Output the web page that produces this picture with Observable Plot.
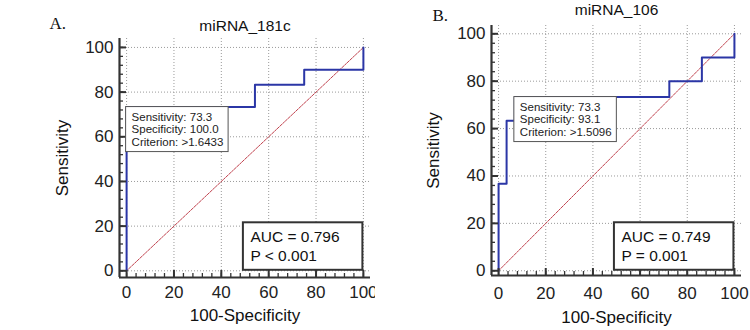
<!DOCTYPE html>
<html>
<head>
<meta charset="utf-8">
<script src="https://cdn.jsdelivr.net/npm/d3@7"></script>
<script src="https://cdn.jsdelivr.net/npm/@observablehq/plot@0.6"></script>
<style>
  html, body { margin: 0; padding: 0; background: #fff; }
  #wrap { position: relative; width: 750px; height: 330px; overflow: hidden; }
  #wrap > div { position: absolute; top: 0; }
</style>
</head>
<body>
<div id="wrap"><div id="pa" style="left:0"></div><div id="pb" style="left:375px"></div></div>
<script>
// Panel labels and titles
const panelLabels = ["A.", "B."];
const titles = ["miRNA_181c", "miRNA_106"];

// ROC step vertices (100-Specificity, Sensitivity)
const rocA_fpr  = [0, 0, 54.2, 75, 100];
const rocA_sens = [0, 73.3, 83.3, 90, 100];
const rocB_fpr  = [0, 0, 3.4, 6.9, 72.4, 86.2, 100];
const rocB_sens = [0, 36.7, 63.3, 73.3, 80, 90, 100];

// Optimal cut-off point for each marker
const cutSensitivity = [73.3, 73.3];
const cutSpecificity = [100.0, 93.1];
const cutCriterion = [">1.6433", ">1.5096"];

// Area under the curve and significance
const aucValues = [0.796, 0.749];
const pLabels = ["P < 0.001", "P = 0.001"];

// Axis ticks
const majorTicks = [0, 20, 40, 60, 80, 100];
const minorTicks = d3.range(0, 101, 4);

const layouts = [
  {width: 375, height: 330, ml: 119, mr: 5, mt: 38, mb: 53, xd: [-3, 103], yd: [-3, 104], pad: 8,
   titleDy: -12, labDx: -70, labDy: -14.7, ylabDx: -57, xlabDy: 38},
  {width: 375, height: 330, ml: 116, mr: 9, mt: 25, mb: 55, xd: [-3, 103], yd: [-2, 103.5], pad: 11,
   titleDy: -15, labDx: -59, labDy: -9.7, ylabDx: -58, xlabDy: 42.5}
];

const rocs = [
  rocA_fpr.map((x, i) => ({x, y: rocA_sens[i]})),
  rocB_fpr.map((x, i) => ({x, y: rocB_sens[i]}))
];

function panel(k) {
  const L = layouts[k];
  const innerW = L.width - L.ml - L.mr;
  const innerH = L.height - L.mt - L.mb;
  const cut = [{x: 100 - cutSpecificity[k], y: cutSensitivity[k],
    text: `Sensitivity: ${cutSensitivity[k].toFixed(1)}\nSpecificity: ${cutSpecificity[k].toFixed(1)}\nCriterion: ${cutCriterion[k]}`}];
  const auc = [{x: 100, y: 0, text: `AUC = ${aucValues[k].toFixed(3)}\n${pLabels[k]}`}];
  const axisColor = "#333";
  return Plot.plot({
    width: L.width, height: L.height,
    marginLeft: L.ml, marginRight: L.mr, marginTop: L.mt, marginBottom: L.mb,
    style: "font-family: 'Liberation Sans', Arial, sans-serif; font-size: 17px; color: #222; background: white; overflow: visible;",
    x: {domain: L.xd, ticks: majorTicks, tickSize: 0, tickPadding: L.pad, label: null},
    y: {domain: L.yd, ticks: majorTicks, tickSize: 0, tickPadding: 6, label: null},
    marks: [
      // dotted grid
      Plot.ruleX(majorTicks, {stroke: "#9a9a9a", strokeWidth: 1, strokeDasharray: "1,2"}),
      Plot.ruleY(majorTicks, {stroke: "#9a9a9a", strokeWidth: 1, strokeDasharray: "1,2"}),
      // chance diagonal
      Plot.line([{x: 0, y: 0}, {x: 100, y: 100}], {x: "x", y: "y", stroke: "#c0404c", strokeWidth: 1, strokeDasharray: "2.5,1.2"}),
      // ROC curve
      Plot.line(rocs[k], {x: "x", y: "y", curve: "step-after", stroke: "#2b36a6", strokeWidth: 2}),
      // spines
      Plot.ruleX([L.xd[0]], {stroke: axisColor, strokeWidth: 2.2}),
      Plot.ruleY([L.yd[0]], {stroke: axisColor, strokeWidth: 2.2}),
      // inward ticks
      Plot.tickX(majorTicks, {x: d => d, insetTop: innerH - 7, stroke: axisColor, strokeWidth: 2}),
      Plot.tickX(minorTicks, {x: d => d, insetTop: innerH - 4, stroke: axisColor, strokeWidth: 1.3}),
      Plot.tickY(majorTicks, {y: d => d, insetRight: innerW - 7, stroke: axisColor, strokeWidth: 2}),
      Plot.tickY(minorTicks, {y: d => d, insetRight: innerW - 4, stroke: axisColor, strokeWidth: 1.3}),
      // cut-off box
      Plot.rect(cut, {x1: "x", x2: "x", y1: "y", y2: "y", insetLeft: -0.5, insetRight: -102, insetTop: 0, insetBottom: -45,
        fill: "white", stroke: "#555", strokeWidth: 1}),
      Plot.text(cut, {x: "x", y: "y", text: "text", textAnchor: "start", lineAnchor: "middle", lineHeight: 1.05,
        dx: 5, dy: 22.5, fontSize: 11.5, fill: "#222"}),
      // AUC box
      Plot.rect(auc, {x1: "x", x2: "x", y1: "y", y2: "y", insetLeft: -120, insetRight: 0.5, insetTop: -48, insetBottom: 0.5,
        fill: "white", stroke: "#333", strokeWidth: 2}),
      Plot.text(auc, {x: "x", y: "y", text: "text", textAnchor: "start", lineAnchor: "middle", lineHeight: 1.2,
        dx: -113, dy: -25.5, fontSize: 15.5, fill: "#111"}),
      // title, panel letter, axis labels
      Plot.text([titles[k]], {frameAnchor: "top", lineAnchor: "middle", dy: L.titleDy, fontSize: 15.5, fill: "#111"}),
      Plot.text([panelLabels[k]], {frameAnchor: "top-left", textAnchor: "start", lineAnchor: "middle", dx: L.labDx, dy: L.labDy,
        fontSize: 17, fontFamily: "'Liberation Serif', 'Times New Roman', serif", fill: "#111"}),
      Plot.text(["Sensitivity"], {frameAnchor: "left", textAnchor: "middle", lineAnchor: "middle", rotate: -90, dx: L.ylabDx, fontSize: 17, fill: "#111"}),
      Plot.text(["100-Specificity"], {frameAnchor: "bottom", textAnchor: "middle", lineAnchor: "middle", dy: L.xlabDy, fontSize: 17, fill: "#111"})
    ]
  });
}

document.getElementById("pa").appendChild(panel(0));
document.getElementById("pb").appendChild(panel(1));
</script>
</body>
</html>
